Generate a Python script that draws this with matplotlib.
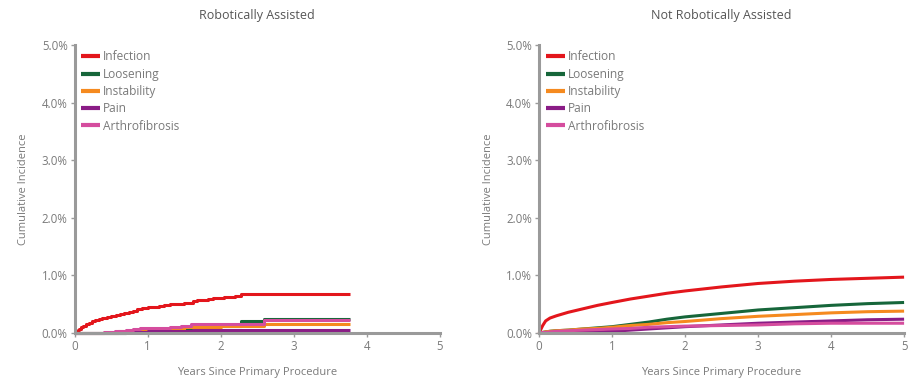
import matplotlib
matplotlib.use("Agg")
import matplotlib.pyplot as plt
from matplotlib.ticker import FuncFormatter

plt.rcParams['font.family'] = ['Open Sans', 'DejaVu Sans']

panel_titles = ["Robotically Assisted", "Not Robotically Assisted"]
series_names = ["Infection", "Loosening", "Instability", "Pain", "Arthrofibrosis"]
series_colors = ["#e3161c", "#16663a", "#f58a1f", "#8a1c86", "#d54d9e"]

# Robotically assisted: Kaplan-Meier style step curves (years, cumulative %)
rob_infection_t = [0, 0.02, 0.04, 0.06, 0.09, 0.12, 0.16, 0.2, 0.24, 0.28, 0.33, 0.38, 0.44, 0.5,
                   0.56, 0.62, 0.68, 0.74, 0.8, 0.86, 0.92, 1.0, 1.08, 1.16, 1.22, 1.3, 1.4, 1.5,
                   1.62, 1.68, 1.75, 1.82, 1.9, 1.98, 2.05, 2.12, 2.2, 2.28, 3.77]
rob_infection_y = [0, 0.03, 0.05, 0.07, 0.10, 0.12, 0.15, 0.18, 0.20, 0.22, 0.24, 0.26, 0.27, 0.29,
                   0.31, 0.33, 0.35, 0.37, 0.39, 0.41, 0.43, 0.45, 0.46, 0.47, 0.49, 0.50, 0.51, 0.52,
                   0.55, 0.57, 0.58, 0.59, 0.60, 0.61, 0.62, 0.63, 0.64, 0.68, 0.68]
rob_loosening_t = [0, 0.7, 1.0, 1.6, 2.28, 2.6, 3.77]
rob_loosening_y = [0, 0.04, 0.07, 0.12, 0.21, 0.24, 0.24]
rob_instability_t = [0, 0.6, 1.0, 1.5, 2.0, 2.6, 3.77]
rob_instability_y = [0, 0.04, 0.07, 0.11, 0.12, 0.15, 0.15]
rob_pain_t = [0, 0.7, 1.0, 1.3, 1.62, 3.77]
rob_pain_y = [0, 0.02, 0.03, 0.04, 0.06, 0.06]
rob_arthro_t = [0, 0.4, 0.55, 0.7, 0.8, 0.9, 1.1, 1.3, 1.45, 1.6, 2.6, 3.77]
rob_arthro_y = [0, 0.01, 0.03, 0.05, 0.07, 0.08, 0.09, 0.10, 0.13, 0.16, 0.22, 0.22]

# Not robotically assisted: dense curves (years, cumulative %)
non_t = [0, 0.05, 0.09, 0.15, 0.24, 0.4, 0.6, 0.8, 1.0, 1.25, 1.5, 1.75, 2.0, 2.5, 3.0, 3.5, 4.0, 4.5, 5.0]
non_infection_y = [0, 0.13, 0.21, 0.26, 0.30, 0.36, 0.42, 0.48, 0.53, 0.59, 0.64, 0.69, 0.73, 0.80, 0.86, 0.90, 0.93, 0.95, 0.97]
non_loosening_y = [0, 0.01, 0.02, 0.03, 0.04, 0.05, 0.07, 0.09, 0.11, 0.15, 0.19, 0.24, 0.28, 0.34, 0.40, 0.44, 0.48, 0.51, 0.53]
non_instability_y = [0, 0.01, 0.02, 0.03, 0.04, 0.05, 0.07, 0.08, 0.10, 0.13, 0.15, 0.18, 0.20, 0.25, 0.29, 0.32, 0.35, 0.37, 0.38]
non_pain_y = [0, 0.0, 0.0, 0.01, 0.01, 0.01, 0.02, 0.02, 0.03, 0.05, 0.07, 0.09, 0.11, 0.14, 0.17, 0.19, 0.21, 0.23, 0.24]
non_arthro_y = [0, 0.01, 0.01, 0.02, 0.03, 0.04, 0.05, 0.06, 0.07, 0.08, 0.10, 0.11, 0.12, 0.13, 0.14, 0.16, 0.17, 0.17, 0.17]

x_ticks = [0, 1, 2, 3, 4, 5]
y_ticks = [0, 1, 2, 3, 4, 5]

grey = "#7a7a7a"
spine_grey = "#9a9a9a"

fig = plt.figure(figsize=(9.16, 3.78), dpi=100)
ax_l = fig.add_axes([0.0815, 0.119, 0.3985, 0.762])
ax_r = fig.add_axes([0.5885, 0.119, 0.3985, 0.762])

rob_series = [
    (rob_infection_t, rob_infection_y),
    (rob_loosening_t, rob_loosening_y),
    (rob_instability_t, rob_instability_y),
    (rob_pain_t, rob_pain_y),
    (rob_arthro_t, rob_arthro_y),
]
non_series = [non_infection_y, non_loosening_y, non_instability_y, non_pain_y, non_arthro_y]

for (t, y), name, c in zip(rob_series, series_names, series_colors):
    ax_l.plot(t, y, drawstyle="steps-post", color=c, lw=2.2, label=name,
              solid_capstyle="butt", clip_on=False)
for y, name, c in zip(non_series, series_names, series_colors):
    ax_r.plot(non_t, y, color=c, lw=2.2, label=name, solid_capstyle="butt", clip_on=False)

for ax, title in zip([ax_l, ax_r], panel_titles):
    ax.set_xlim(0, 5)
    ax.set_ylim(0, 5)
    ax.set_xticks(x_ticks)
    ax.set_yticks(y_ticks)
    ax.yaxis.set_major_formatter(FuncFormatter(lambda v, p: f"{v:.1f}%"))
    for s in ["top", "right"]:
        ax.spines[s].set_visible(False)
    for s in ["left", "bottom"]:
        ax.spines[s].set_color(spine_grey)
        ax.spines[s].set_linewidth(2.2)
    ax.tick_params(axis="both", colors=spine_grey, labelcolor=grey, labelsize=8.3,
                   length=3, width=1, pad=2)
    ax.set_title(title, fontsize=9, color="#555555", pad=19)
    ax.set_xlabel("Years Since Primary Procedure", fontsize=8, color=grey, labelpad=10)
    ax.set_ylabel("Cumulative Incidence", fontsize=8, color=grey, labelpad=9)
    leg = ax.legend(loc="upper left", bbox_to_anchor=(-0.005, 1.01), frameon=False,
                    fontsize=8.6, handlelength=1.6, handletextpad=0.25,
                    labelspacing=0.36, borderaxespad=0.3)
    for txt in leg.get_texts():
        txt.set_color(grey)
    for line in leg.get_lines():
        line.set_linewidth(3)

fig.savefig("out.png", dpi=100)
